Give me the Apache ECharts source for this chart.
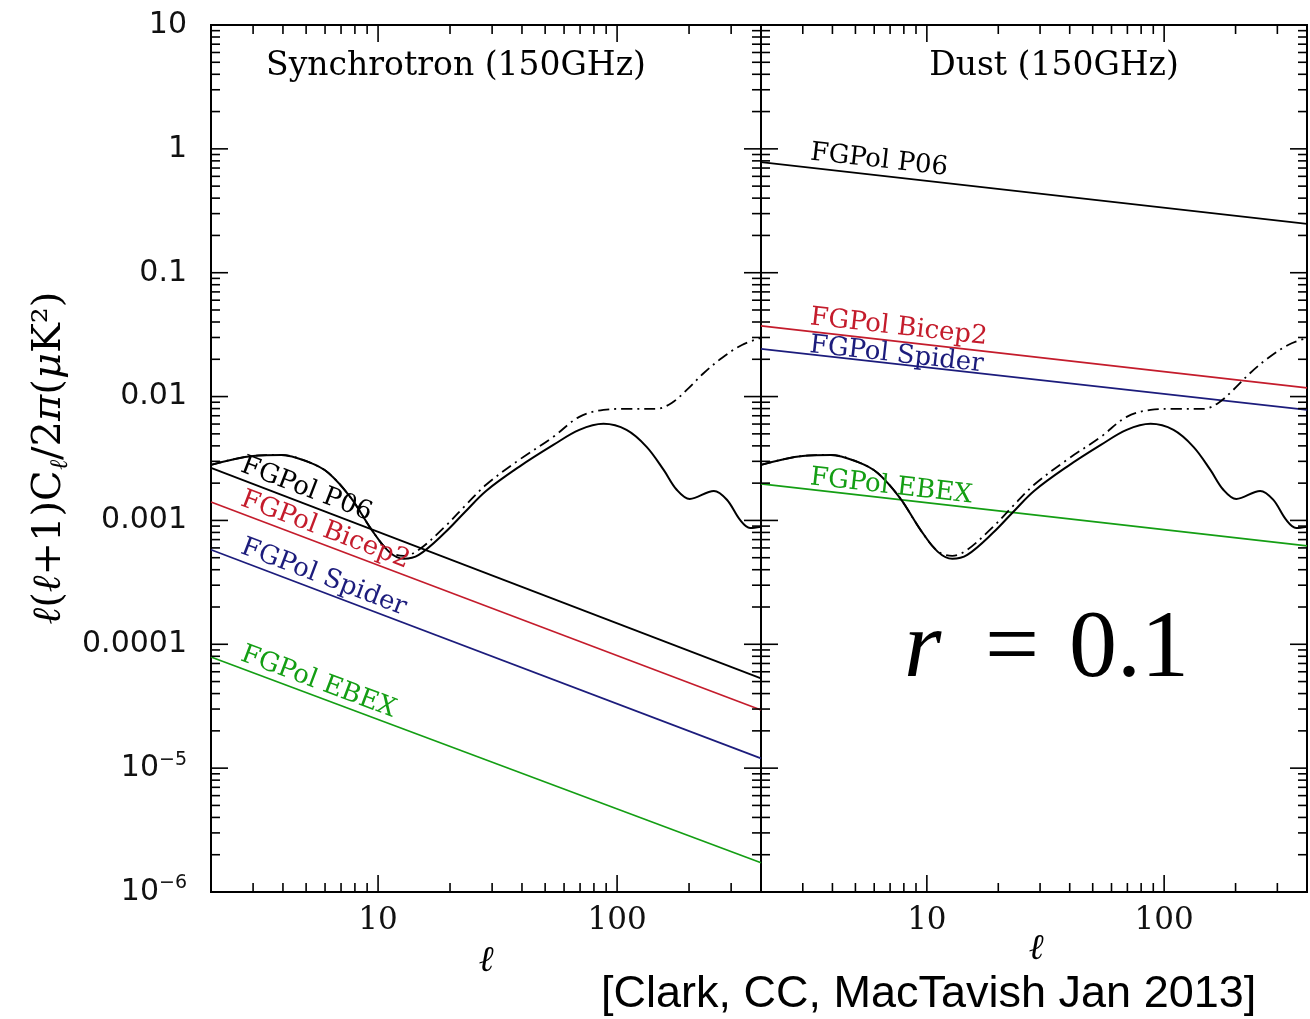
<!DOCTYPE html>
<html>
<head>
<meta charset="utf-8">
<script src="https://cdn.jsdelivr.net/npm/echarts@6/dist/echarts.min.js"></script>
<style>
  html, body { margin: 0; padding: 0; background: #fff; }
  #chart { width: 1310px; height: 1019px; }
</style>
</head>
<body>
<div id="chart"></div>
<script>
// Multipole range and power range shared by both panels
const ellRange = [2, 400];
const powerRange = [1e-6, 10];

// Foreground power laws: [ell, l(l+1)C_l/2pi] at both ends of the range
const syncP06    = [[2, 2.66e-3], [400, 5.3e-5]];
const syncBicep2 = [[2, 1.41e-3], [400, 2.95e-5]];
const syncSpider = [[2, 5.8e-4],  [400, 1.2e-5]];
const syncEBEX   = [[2, 7.9e-5],  [400, 1.72e-6]];
const dustP06    = [[2, 0.78],    [400, 0.248]];
const dustBicep2 = [[2, 0.0372],  [400, 0.01175]];
const dustSpider = [[2, 0.0243],  [400, 7.8e-3]];
const dustEBEX   = [[2, 1.97e-3], [400, 6.24e-4]];

// B-mode spectrum for r = 0.1: primordial (solid)
const bbEll = [2, 3.0, 3.94, 5.1, 6.2, 7.7, 9.4, 11.1, 12.8, 14.8, 19.0, 23.1, 28.3, 38.9, 54.1,
               69.5, 87.7, 109.5, 132.9, 156.6, 177.6, 201.4, 254, 288, 327, 360, 400];
const bbPrimordial = [2.81e-3, 3.32e-3, 3.38e-3, 2.97e-3, 2.42e-3, 1.52e-3, 8.4e-4, 5.6e-4, 4.9e-4,
                      5.27e-4, 7.94e-4, 1.17e-3, 1.73e-3, 2.71e-3, 4.07e-3, 5.38e-3, 6.02e-3, 5.38e-3,
                      3.93e-3, 2.56e-3, 1.77e-3, 1.49e-3, 1.73e-3, 1.47e-3, 1.01e-3, 8.7e-4, 8.9e-4];
// primordial + lensing (dash-dot)
const bbTotalEll = [2, 3.0, 3.94, 5.1, 6.2, 7.7, 9.4, 11.1, 12.8, 14.8, 19.0, 23.1, 28.3, 38.9, 54.1,
                    69.5, 87.7, 109.5, 146.3, 169.2, 195.6, 230.6, 274.4, 333, 400];
const bbTotal = [2.81e-3, 3.32e-3, 3.38e-3, 2.97e-3, 2.42e-3, 1.52e-3, 8.4e-4, 5.65e-4, 5.18e-4,
                 5.79e-4, 8.87e-4, 1.31e-3, 1.94e-3, 3.08e-3, 4.73e-3, 6.86e-3, 7.81e-3, 7.96e-3,
                 7.96e-3, 8.89e-3, 0.01132, 0.0155, 0.0205, 0.0261, 0.0298];

// Tick values
const xMajorTicks = [10, 100];
const xMinorTicks = [2, 3, 4, 5, 6, 7, 8, 9, 20, 30, 40, 50, 60, 70, 80, 90, 200, 300];
const yMajorTicks = [1e-6, 1e-5, 1e-4, 1e-3, 1e-2, 1e-1, 1, 10];
const yMinorTicks = [];
for (let e = -6; e <= 0; e++) for (let k = 2; k <= 9; k++) yMinorTicks.push(k * Math.pow(10, e));

const panelTitles = ['Synchrotron (150GHz)', 'Dust (150GHz)'];
const sourceNote = '[Clark, CC, MacTavish Jan 2013]';

const RED = '#c41c2c', BLUE = '#1c1c7c', GREEN = '#149e14', BLACK = '#000';
const SERIF = '"DejaVu Serif", serif';
const SANS = '"DejaVu Sans", sans-serif';

const chart = echarts.init(document.getElementById('chart'));

const zip = (xs, ys) => xs.map((x, i) => [x, ys[i]]);

// tick items: [x, y, kind] kind 0 x-minor, 1 x-major, 2 y-minor, 3 y-major
const tickData = []
  .concat(xMinorTicks.map(v => [v, 1, 0]))
  .concat(xMajorTicks.map(v => [v, 1, 1]))
  .concat(yMinorTicks.map(v => [10, v, 2]))
  .concat(yMajorTicks.map(v => [10, v, 3]));

function tickRenderer(params, api) {
  const kind = api.value(2);
  const len = (kind === 1 || kind === 3) ? 17 : 9;
  const st = { stroke: '#000', lineWidth: 1.6 };
  if (kind < 2) {
    const v = api.value(0);
    const b = api.coord([v, powerRange[0]]);
    const t = api.coord([v, powerRange[1]]);
    return { type: 'group', children: [
      { type: 'line', shape: { x1: b[0], y1: b[1], x2: b[0], y2: b[1] - len }, style: st },
      { type: 'line', shape: { x1: t[0], y1: t[1], x2: t[0], y2: t[1] + len }, style: st }
    ]};
  }
  const v = api.value(1);
  const l = api.coord([ellRange[0], v]);
  const r = api.coord([ellRange[1], v]);
  return { type: 'group', children: [
    { type: 'line', shape: { x1: l[0], y1: l[1], x2: l[0] + len, y2: l[1] }, style: st },
    { type: 'line', shape: { x1: r[0], y1: r[1], x2: r[0] - len, y2: r[1] }, style: st }
  ]};
}

function lineSeries(idx, data, color, width) {
  return {
    type: 'line', xAxisIndex: idx, yAxisIndex: idx, data: data,
    showSymbol: false, symbol: 'none', silent: true,
    lineStyle: { color: color, width: width || 1.7 }, z: 3
  };
}

function bbSeries(idx) {
  return [
    {
      type: 'line', xAxisIndex: idx, yAxisIndex: idx, data: zip(bbEll, bbPrimordial),
      showSymbol: false, symbol: 'none', smooth: 0.35, silent: true,
      lineStyle: { color: '#000', width: 2 }, z: 4
    },
    {
      type: 'line', xAxisIndex: idx, yAxisIndex: idx, data: zip(bbTotalEll, bbTotal),
      showSymbol: false, symbol: 'none', smooth: 0.35, silent: true,
      lineStyle: { color: '#000', width: 1.8, type: [11, 5, 2, 5] }, z: 4
    }
  ];
}

function yLabel(v) {
  const e = Math.round(Math.log10(v));
  if (e >= 0) return String(Math.pow(10, e));
  if (e >= -4) return '0.' + '0'.repeat(-e - 1) + '1';
  return '{b|10}{s|−' + (-e) + '}';
}
function xLabel(v) {
  const e = Math.log10(v);
  return Math.abs(e - Math.round(e)) < 1e-6 ? String(Math.round(v)) : '';
}

const xAxisBase = {
  type: 'log', logBase: 10, min: ellRange[0], max: ellRange[1],
  axisLine: { show: false }, axisTick: { show: false }, splitLine: { show: false },
  axisLabel: { formatter: xLabel, fontFamily: SERIF, fontSize: 31, color: '#111', margin: 13 }
};
const yAxisBase = {
  type: 'log', logBase: 10, min: powerRange[0], max: powerRange[1],
  axisLine: { show: false }, axisTick: { show: false }, splitLine: { show: false }
};

chart.setOption({
  animation: false,
  backgroundColor: '#fff',
  grid: [
    { left: 211, top: 25, width: 550, height: 867, show: true, borderColor: '#000', borderWidth: 2 },
    { left: 761, top: 25, width: 548, height: 867, show: true, borderColor: '#000', borderWidth: 2 }
  ],
  xAxis: [
    Object.assign({ gridIndex: 0 }, xAxisBase),
    Object.assign({ gridIndex: 1 }, xAxisBase)
  ],
  yAxis: [
    Object.assign({ gridIndex: 0 }, yAxisBase, {
      axisLabel: {
        formatter: yLabel, fontFamily: SANS, fontSize: 30, color: '#111', margin: 24,
        rich: {
          b: { fontFamily: SANS, fontSize: 30, color: '#111', lineHeight: 36 },
          s: { fontFamily: SANS, fontSize: 19, color: '#111', lineHeight: 22, verticalAlign: 'top' }
        }
      }
    }),
    Object.assign({ gridIndex: 1 }, yAxisBase, { axisLabel: { show: false } })
  ],
  series: [
    lineSeries(0, syncP06, BLACK, 1.8),
    lineSeries(0, syncBicep2, RED),
    lineSeries(0, syncSpider, BLUE),
    lineSeries(0, syncEBEX, GREEN),
    ...bbSeries(0),
    lineSeries(1, dustP06, BLACK, 1.8),
    lineSeries(1, dustBicep2, RED),
    lineSeries(1, dustSpider, BLUE),
    lineSeries(1, dustEBEX, GREEN),
    ...bbSeries(1),
    { type: 'custom', xAxisIndex: 0, yAxisIndex: 0, data: tickData, renderItem: tickRenderer, silent: true, clip: false, z: 6 },
    { type: 'custom', xAxisIndex: 1, yAxisIndex: 1, data: tickData, renderItem: tickRenderer, silent: true, clip: false, z: 6 }
  ]
});

// Rotated labels that sit along each foreground line
const lineLabels = [
  { panel: 0, line: syncP06,    text: 'FGPol P06',    color: BLACK, at: 2.57, lift: 1 },
  { panel: 0, line: syncBicep2, text: 'FGPol Bicep2', color: RED,   at: 2.57, lift: 1 },
  { panel: 0, line: syncSpider, text: 'FGPol Spider', color: BLUE,  at: 2.57, lift: 1 },
  { panel: 0, line: syncEBEX,   text: 'FGPol EBEX',   color: GREEN, at: 2.57, lift: 1 },
  { panel: 1, line: dustP06,    text: 'FGPol P06',    color: BLACK, at: 3.18, lift: 2 },
  { panel: 1, line: dustBicep2, text: 'FGPol Bicep2', color: RED,   at: 3.18, lift: 1 },
  { panel: 1, line: dustSpider, text: 'FGPol Spider', color: BLUE,  at: 3.18, lift: -4 },
  { panel: 1, line: dustEBEX,   text: 'FGPol EBEX',   color: GREEN, at: 3.18, lift: -1 }
];

const graphics = lineLabels.map(lb => {
  const finder = { xAxisIndex: lb.panel, yAxisIndex: lb.panel };
  const a = chart.convertToPixel(finder, lb.line[0]);
  const b = chart.convertToPixel(finder, lb.line[1]);
  const th = Math.atan2(b[1] - a[1], b[0] - a[0]);
  const px = chart.convertToPixel({ xAxisIndex: lb.panel }, lb.at);
  const py = a[1] + (px - a[0]) * Math.tan(th);
  return {
    type: 'text', x: px + lb.lift * Math.sin(th), y: py - lb.lift * Math.cos(th), rotation: -th,
    silent: true, z: 10,
    style: { text: lb.text, fill: lb.color, font: '26px ' + SERIF, align: 'left', verticalAlign: 'bottom' }
  };
});

// panel titles
graphics.push(
  { type: 'text', x: 456, y: 66, silent: true,
    style: { text: panelTitles[0], fill: '#000', font: '33px ' + SERIF, align: 'center', verticalAlign: 'middle' } },
  { type: 'text', x: 1054, y: 66, silent: true,
    style: { text: panelTitles[1], fill: '#000', font: '33px ' + SERIF, align: 'center', verticalAlign: 'middle' } }
);

// axis names
graphics.push(
  { type: 'text', x: 50, y: 458, rotation: Math.PI / 2, silent: true,
    style: {
      text: '{i|ℓ}{n|(}{i|ℓ}{n|+1)C}{sub|ℓ}{n|/2}{i|π}{n|(}{i|μ}{n|K²)}',
      align: 'center', verticalAlign: 'middle',
      rich: {
        n: { fontFamily: SERIF, fontSize: 40, fill: '#000', lineHeight: 46 },
        i: { fontFamily: SERIF, fontStyle: 'italic', fontSize: 40, fill: '#000', lineHeight: 46 },
        sub: { fontFamily: SERIF, fontStyle: 'italic', fontSize: 25, fill: '#000', lineHeight: 30, verticalAlign: 'bottom' }
      }
    } },
  { type: 'text', x: 486, y: 962, silent: true,
    style: { text: 'ℓ', fill: '#000', font: 'italic 36px ' + SERIF, align: 'center', verticalAlign: 'middle' } },
  { type: 'text', x: 1036, y: 950, silent: true,
    style: { text: 'ℓ', fill: '#000', font: 'italic 36px ' + SERIF, align: 'center', verticalAlign: 'middle' } }
);

// r = 0.1 annotation
const annFont = '96px "Liberation Serif", serif';
graphics.push(
  { type: 'text', x: 904, y: 603, silent: true,
    style: { text: 'r', fill: '#000', font: 'italic ' + annFont, align: 'left', verticalAlign: 'top' } },
  { type: 'text', x: 1012, y: 603, silent: true,
    style: { text: '=', fill: '#000', font: annFont, align: 'center', verticalAlign: 'top' } },
  { type: 'text', x: 1069, y: 603, silent: true,
    style: { text: '0.1', fill: '#000', font: annFont, align: 'left', verticalAlign: 'top' } }
);

// source note
graphics.push(
  { type: 'text', x: 601, y: 995, silent: true,
    style: { text: sourceNote, fill: '#000', font: '45px "Liberation Sans", sans-serif', align: 'left', verticalAlign: 'middle' } }
);

chart.setOption({ graphic: graphics });
</script>
</body>
</html>
